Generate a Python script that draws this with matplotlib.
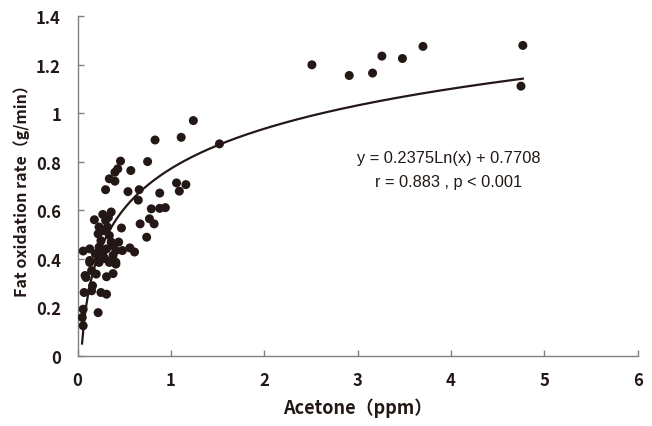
import matplotlib
matplotlib.use('Agg')
import matplotlib.pyplot as plt
import numpy as np

plt.rcParams['font.family'] = ['Noto Sans CJK JP', 'DejaVu Sans']

# acetone (ppm) vs fat oxidation rate (g/min)
acetone = [
    2.51, 2.91, 3.16, 3.26, 3.48, 3.70, 4.77, 4.75,
    1.24, 1.11, 1.52, 0.83, 0.46, 0.75, 0.43, 0.40, 0.57, 0.34, 0.40, 0.30,
    1.06, 1.16, 1.09, 0.54, 0.66, 0.88, 0.65, 0.79, 0.88, 0.94, 0.77, 0.67,
    0.82, 0.47, 0.74, 0.56, 0.61, 0.48,
    0.27, 0.36, 0.30, 0.23, 0.32, 0.22, 0.34, 0.25, 0.36, 0.13, 0.06, 0.23,
    0.31, 0.41, 0.38, 0.27, 0.13, 0.22, 0.41, 0.44, 0.38,
    0.13, 0.23, 0.34, 0.41, 0.09, 0.20, 0.31, 0.38, 0.16, 0.07, 0.15, 0.25,
    0.31, 0.06, 0.22, 0.05, 0.06, 0.08, 0.15, 0.19, 0.29, 0.18, 0.28, 0.33,
]
fat_ox = [
    1.199, 1.155, 1.165, 1.235, 1.225, 1.275, 1.279, 1.111,
    0.969, 0.900, 0.873, 0.889, 0.802, 0.800, 0.770, 0.756, 0.763, 0.729, 0.719, 0.684,
    0.712, 0.705, 0.678, 0.676, 0.684, 0.670, 0.641, 0.605, 0.607, 0.610, 0.564, 0.543,
    0.543, 0.526, 0.488, 0.444, 0.427, 0.433,
    0.582, 0.592, 0.557, 0.530, 0.530, 0.502, 0.495, 0.474, 0.468, 0.440, 0.431, 0.447,
    0.440, 0.433, 0.413, 0.420, 0.392, 0.392, 0.385, 0.468, 0.454,
    0.384, 0.384, 0.384, 0.377, 0.322, 0.336, 0.325, 0.338, 0.288, 0.260, 0.267, 0.260,
    0.253, 0.191, 0.177, 0.157, 0.123, 0.330, 0.350, 0.420, 0.400, 0.560, 0.515, 0.570,
]

# logarithmic fit given on the chart
fit_a = 0.2375
fit_b = 0.7708
fit_range = (0.048, 4.77)

ink = '#231815'

fig = plt.figure(figsize=(6.52, 4.27), dpi=100)
ax = fig.add_axes([0.119, 0.165, 0.859, 0.795])

ax.scatter(acetone, fat_ox, s=42, color=ink, edgecolors='none', zorder=3)

xs = np.linspace(fit_range[0], fit_range[1], 300)
ax.plot(xs, fit_a * np.log(xs) + fit_b, color=ink, linewidth=1.6, zorder=2)

ax.set_xlim(0, 6)
ax.set_ylim(0, 1.4)
ax.set_xticks(range(0, 7))
ax.set_yticks([0, 0.2, 0.4, 0.6, 0.8, 1.0, 1.2, 1.4])
ax.set_yticklabels(['0', '0.2', '0.4', '0.6', '0.8', '1', '1.2', '1.4'])

for side in ('top', 'right'):
    ax.spines[side].set_visible(False)
for side in ('left', 'bottom'):
    ax.spines[side].set_color('#808080')
    ax.spines[side].set_linewidth(1.0)

ax.tick_params(direction='in', length=4, width=1, color='#808080',
               labelsize=12, labelcolor=ink)
ax.tick_params(axis='x', pad=11)
ax.tick_params(axis='y', pad=12)
for lab in ax.get_xticklabels() + ax.get_yticklabels():
    lab.set_fontweight('bold')

ax.set_xlabel('Acetone（ppm）', fontsize=13, fontweight='bold', color=ink, labelpad=6)
ax.set_ylabel('Fat oxidation rate（g/min）', fontsize=11.5, fontweight='bold', color=ink, labelpad=4)

ax.text(3.98, 0.816, 'y = 0.2375Ln(x) + 0.7708', fontsize=11.8, color=ink,
        family=['Liberation Sans', 'DejaVu Sans'], ha='center', va='center')
ax.text(3.97, 0.717, 'r = 0.883 , p < 0.001', fontsize=11.8, color=ink,
        family=['Liberation Sans', 'DejaVu Sans'], ha='center', va='center')

fig.savefig('out.png', dpi=100)
